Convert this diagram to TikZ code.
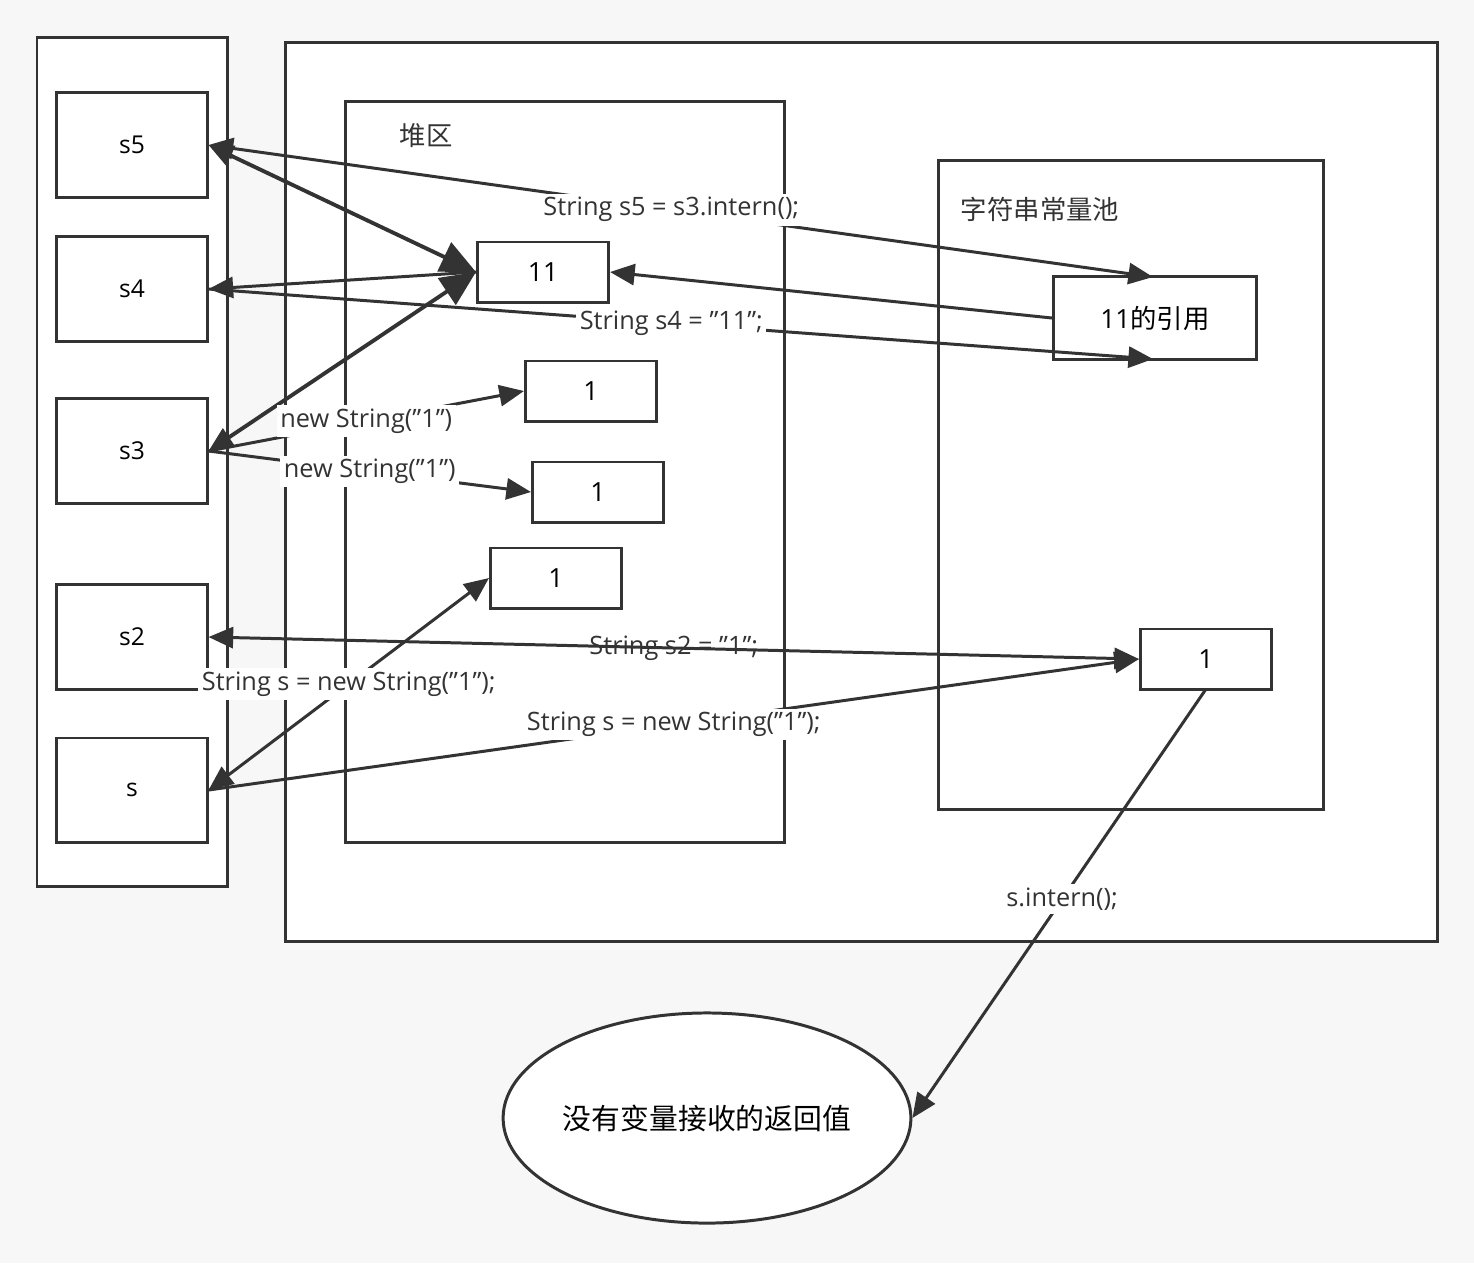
\documentclass[tikz,border=0pt]{standalone}
\usepackage{fontspec}
\setmainfont{Open Sans}
\newfontfamily\cjk{Noto Sans CJK SC}
\usetikzlibrary{arrows.meta,positioning,shapes.geometric}
\newcommand\dq{\symbol{34}}
\tikzset{
  box/.style = {draw=black!80, fill=white, line width=0.85pt, inner sep=0pt},
  var/.style = {box, minimum width=1.5cm, minimum height=1.04cm, font=\fontsize{7}{8}\selectfont},
  obj/.style = {box, minimum width=1.31cm, minimum height=0.6cm, font=\fontsize{7.5}{9}\selectfont},
  ref/.style = {-{Triangle[length=7pt,width=6pt]}, draw=black!80, line width=0.85pt},
  bref/.style = {{Triangle[length=7pt,width=6pt]}-{Triangle[length=7pt,width=6pt]}, draw=black!80, line width=0.85pt},
  fat/.style = {{Triangle[length=7pt,width=6pt]}-{Triangle[length=10pt,width=9pt]}, draw=black!80, line width=1.1pt},
  code/.style = {fill=white, inner sep=1pt, text=black!80, font=\fontsize{7.2}{9}\selectfont},
}
\begin{document}
\begin{tikzpicture}[x=0.01cm, y=-0.01cm]
\fill[black!3] (0,0) rectangle (1474,1263);
\useasboundingbox (0,0) rectangle (1474,1263);

% frames
\draw[box] (37,37) rectangle (227,886);
\draw[box] (285,42) rectangle (1437,941);
\draw[box] (345,101) rectangle (784,842);
\node[text=black!80, font=\cjk\fontsize{7.5}{9}\selectfont] (heap) at (426,136) {堆区};
\draw[box] (938,160) rectangle (1323,809);
\node[text=black!80, font=\cjk\fontsize{7.5}{9}\selectfont] (pool) at (1040,209) {字符串常量池};

% stack variables
\node[var] (s5) at (132,145) {s5};
\node[var] (s4) at (132,289) {s4};
\node[var] (s3) at (132,451) {s3};
\node[var] (s2) at (132,637) {s2};
\node[var] (s)  at (132,790) {s};

% heap objects
\node[obj] (h11) at (543,272) {11};
\node[obj] (ha) at (591,391) {1};
\node[obj] (hb) at (598,492) {1};
\node[obj] (hc) at (556,578) {1};

% pool entries
\node[box, minimum width=2.03cm, minimum height=0.82cm, font=\fontsize{7.5}{9}\selectfont] (p11) at (1155,318) {11{\cjk 的引用}};
\node[obj] (p1) at (1206,659) {1};
\node[draw=black!80, fill=white, line width=0.85pt, ellipse, inner sep=0pt, minimum width=3.44cm, minimum height=2.1cm,
  font=\cjk\fontsize{8.2}{10}\selectfont] (ret) at (707,1118) {没有变量接收的返回值};

\coordinate (p11t) at (1153,277);
\coordinate (p11b) at (1153,359);
\coordinate (p1b) at (1206,689);

% connectors
\draw[bref] (s5.east) -- node[code, pos=0.49] {String s5 = s3.intern();} (p11t);
\draw[fat] (s5.east) -- (h11.west);
\draw[fat] (s3.east) -- (h11.west);
\draw[ref] (h11.west) -- (s4.east);
\draw[ref] (s4.east) -- node[code, pos=0.49] {String s4 = \dq11\dq;} (p11b);
\draw[ref] (p11.west) -- (h11.east);
\draw[ref] (s3.east) -- node[code, pos=0.5] {new String(\dq1\dq)} (ha.west);
\draw[ref] (s3.east) -- node[code, pos=0.5] {new String(\dq1\dq)} (hb.west);
\draw[bref] (s2.east) -- node[code, pos=0.5, fill=none] {String s2 = \dq1\dq;} (p1.west);
\draw[bref] (s.east) -- node[code, pos=0.5] {String s = new String(\dq1\dq);} (hc.west);
\draw[ref] (s.east) -- node[code, pos=0.5] {String s = new String(\dq1\dq);} (p1.west);
\draw[ref] (p1b) -- node[code, pos=0.49] {s.intern();} (ret.east);
\end{tikzpicture}
\end{document}
